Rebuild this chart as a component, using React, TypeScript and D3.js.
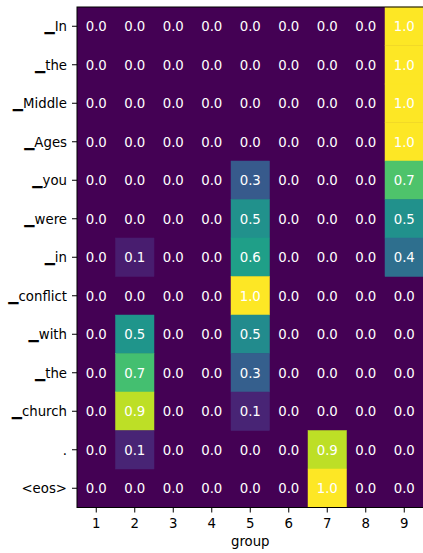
import React from "react";
import * as d3 from "d3";

const tokens = ["▁In", "▁the", "▁Middle", "▁Ages", "▁you", "▁were", "▁in", "▁conflict", "▁with", "▁the", "▁church", ".", "<eos>"];
const groups = ["1", "2", "3", "4", "5", "6", "7", "8", "9"];
const values: number[][] = [
  [0, 0, 0, 0, 0, 0, 0, 0, 1.0],
  [0, 0, 0, 0, 0, 0, 0, 0, 1.0],
  [0, 0, 0, 0, 0, 0, 0, 0, 1.0],
  [0, 0, 0, 0, 0, 0, 0, 0, 1.0],
  [0, 0, 0, 0, 0.28, 0, 0, 0, 0.72],
  [0, 0, 0, 0, 0.5, 0, 0, 0, 0.5],
  [0, 0.08, 0, 0, 0.56, 0, 0, 0, 0.36],
  [0, 0, 0, 0, 1.0, 0, 0, 0, 0],
  [0, 0.52, 0, 0, 0.48, 0, 0, 0, 0],
  [0, 0.7, 0, 0, 0.3, 0, 0, 0, 0],
  [0, 0.9, 0, 0, 0.1, 0, 0, 0, 0],
  [0, 0.1, 0, 0, 0, 0, 0.9, 0, 0],
  [0, 0, 0, 0, 0, 0, 1.0, 0, 0],
];

export default function App() {
  const W = 423, H = 553;
  const left = 77, right = 423.5, top = 7, bottom = 507.5;
  const x = d3.scaleBand<string>().domain(groups).range([left, right]);
  const y = d3.scaleBand<number>().domain(d3.range(tokens.length)).range([top, bottom]);
  const color = d3.scaleSequential(d3.interpolateViridis).domain([0, 1]);
  const font = "'DejaVu Sans', sans-serif";
  const fs = 13.3;
  return (
    <svg width={W} height={H} style={{ position: "absolute", left: 0, top: 0, background: "#fff" }} fontFamily={font}>
      <rect x={left} y={top} width={right - left} height={bottom - top} fill={color(0)} />
      {values.map((row, i) =>
        row.map((v, j) =>
          v > 0 ? (
            <rect key={`r${i}-${j}`} x={x(groups[j])} y={y(i)} width={x.bandwidth()} height={y.bandwidth()}
              fill={color(v)} stroke={color(v)} strokeWidth={0.5} />
          ) : null
        )
      )}
      {values.map((row, i) =>
        row.map((v, j) => (
          <text key={`t${i}-${j}`} x={(x(groups[j]) as number) + x.bandwidth() / 2} y={(y(i) as number) + y.bandwidth() / 2}
            textAnchor="middle" dy="0.36em" fill="#fff" fontSize={fs}>
            {(Math.round(v * 10) / 10).toFixed(1)}
          </text>
        ))
      )}
      <rect x={left} y={top} width={right - left} height={bottom - top} fill="none" stroke="#000" strokeWidth={1} />
      {tokens.map((t, i) => {
        const cy = (y(i) as number) + y.bandwidth() / 2;
        return (
          <g key={`yt${i}`}>
            <line x1={left - 5} x2={left} y1={cy} y2={cy} stroke="#000" strokeWidth={1} />
            <text x={left - 10} y={cy} textAnchor="end" dy="0.36em" fontSize={fs} fill="#000">{t}</text>
          </g>
        );
      })}
      {groups.map((g) => {
        const cx = (x(g) as number) + x.bandwidth() / 2;
        return (
          <g key={`xt${g}`}>
            <line x1={cx} x2={cx} y1={bottom} y2={bottom + 5} stroke="#000" strokeWidth={1} />
            <text x={cx} y={bottom + 16} textAnchor="middle" dy="0.36em" fontSize={fs} fill="#000">{g}</text>
          </g>
        );
      })}
      <text x={(left + right) / 2} y={541.5} textAnchor="middle" dy="0.36em" fontSize={fs} fill="#000">group</text>
    </svg>
  );
}
